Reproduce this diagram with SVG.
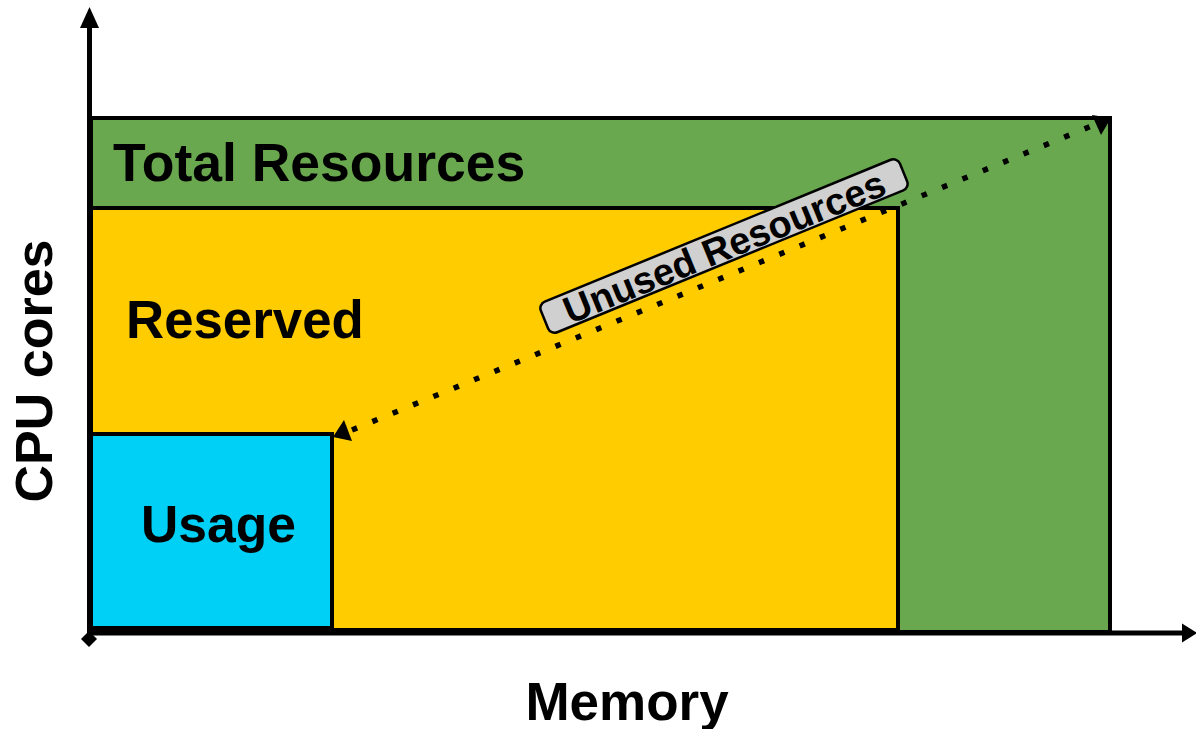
<svg xmlns="http://www.w3.org/2000/svg" width="1196" height="729" viewBox="0 0 1196 729">
  <defs>
    <style>
      .box { stroke: #000; stroke-width: 4; }
      .lbl { font-family: "Liberation Sans", Arial, sans-serif; font-weight: bold; fill: #000; }
      .axis { stroke: #000; stroke-width: 5; fill: none; }
    </style>
  </defs>
  <rect width="1196" height="729" fill="#fff"/>

  <g id="total">
    <rect class="box" x="91" y="118" width="1019" height="514" fill="#6aa84f"/>
    <text class="lbl" x="113" y="181" font-size="53.5">Total Resources</text>
  </g>
  <g id="reserved">
    <rect class="box" x="91" y="208" width="807" height="422" fill="#ffcc00"/>
    <text class="lbl" x="126" y="338" font-size="52.8">Reserved</text>
  </g>
  <g id="usage">
    <rect class="box" x="91" y="434" width="241" height="194" fill="#00d0f5"/>
    <text class="lbl" x="141" y="542" font-size="51.6">Usage</text>
  </g>

  <g id="axes">
    <line class="axis" x1="89.5" y1="640" x2="89.5" y2="24"/>
    <polygon points="89.5,7 80,28 99,28" fill="#000"/>
    <line class="axis" x1="88" y1="633" x2="1184" y2="633"/>
    <polygon points="1197,633 1182,623.5 1182,642.5" fill="#000"/>
    <polygon points="89,631 97,639 89,647 81,639" fill="#000"/>
    <text class="lbl" x="627" y="720" font-size="53" text-anchor="middle">Memory</text>
    <text class="lbl" x="0" y="0" font-size="52" text-anchor="middle" transform="translate(52,371) rotate(-90)">CPU cores</text>
  </g>

  <g id="connectors">
    <line x1="352" y1="430" x2="1094" y2="125" stroke="#000" stroke-width="5.5" stroke-dasharray="5.5 16.5"/>
    <polygon points="333,437 344,420 352,441" fill="#000"/>
    <polygon points="1111,118 1092,115 1101,135" fill="#000"/>
  </g>

  <g id="unused-label" transform="translate(724,246) rotate(-22.3)">
    <rect x="-194" y="-16.5" width="388" height="33" rx="7" fill="#d0d0d0" stroke="#000" stroke-width="2.5"/>
    <text class="lbl" x="0" y="14" font-size="38" text-anchor="middle">Unused Resources</text>
  </g>
</svg>
